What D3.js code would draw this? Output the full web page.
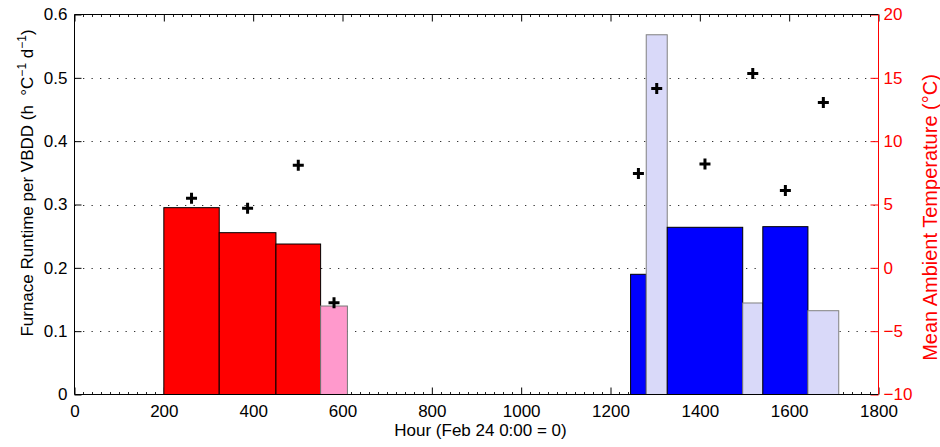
<!DOCTYPE html>
<html>
<head>
<meta charset="utf-8">
<script src="https://cdn.jsdelivr.net/npm/d3@7"></script>
<style>
  body { margin: 0; background: #fff; }
  svg { display: block; }
  text { font-family: "Liberation Sans", Arial, Helvetica, sans-serif; }
</style>
</head>
<body>
<svg id="chart" width="940" height="447"></svg>
<script>
// Measurement bins (hours since Feb 24 0:00)
const binStart = [200, 324, 451, 551, 1245, 1280, 1327, 1496, 1541, 1642];
const binEnd   = [324, 451, 551, 611, 1280, 1327, 1496, 1541, 1642, 1711];
// Furnace runtime per VBDD (h °C^-1 d^-1)
const runtimePerVBDD = [0.295, 0.2555, 0.2376, 0.1397, 0.1898, 0.568, 0.264, 0.1445, 0.265, 0.1323];
// Mean ambient temperature in each bin (°C)
const meanAmbientTemp = [5.5, 4.7, 8.1, -2.75, 7.45, 14.15, 8.2, 15.35, 6.1, 13.05];
// Bin class: which period and whether the bin is a partial one
const binClass = ["first", "first", "first", "first-partial",
                  "second", "second-partial", "second", "second-partial", "second", "second-partial"];

const xTicks = [0, 200, 400, 600, 800, 1000, 1200, 1400, 1600, 1800];
const xTickLabels = ["0", "200", "400", "600", "800", "1000", "1200", "1400", "1600", "1800"];
const yTicks = [0, 0.1, 0.2, 0.3, 0.4, 0.5, 0.6];
const yTickLabels = ["0", "0.1", "0.2", "0.3", "0.4", "0.5", "0.6"];
const tempTicks = [-10, -5, 0, 5, 10, 15, 20];
const tempTickLabels = ["\u221210", "\u22125", "0", "5", "10", "15", "20"];

const fills = {
  "first": "#ff0000", "first-partial": "#ff99cc",
  "second": "#0000ff", "second-partial": "#d9d9f9"
};
const strokes = {
  "first": "#000", "first-partial": "#777",
  "second": "#000", "second-partial": "#808080"
};

const X0 = 74.5, X1 = 878.5, Y0 = 394.5, Y1 = 14.5;
const FS = 17;

const svg = d3.select("#chart");
const x = d3.scaleLinear().domain([0, 1800]).range([X0, X1]);
const y = d3.scaleLinear().domain([0, 0.6]).range([Y0, Y1]);
const yT = d3.scaleLinear().domain([-10, 20]).range([Y0, Y1]);

// dotted horizontal grid
svg.append("g").selectAll("line")
  .data(yTicks.filter(v => v > 0 && v < 0.6))
  .join("line")
  .attr("x1", X0).attr("x2", X1)
  .attr("y1", d => Math.round(y(d)) + 0.5).attr("y2", d => Math.round(y(d)) + 0.5)
  .attr("stroke", "#333").attr("stroke-width", 1)
  .attr("stroke-dasharray", "1.3,7.2");

// minor ticks on bottom and top edges
const minor = d3.range(0, 1801, 20).filter(v => v % 200 !== 0);
const mg = svg.append("g").attr("stroke", "#222").attr("stroke-width", 1);
mg.selectAll("line.b").data(minor).join("line").attr("class", "b")
  .attr("x1", d => Math.round(x(d)) + 0.5).attr("x2", d => Math.round(x(d)) + 0.5)
  .attr("y1", Y0).attr("y2", Y0 - 2.5);
mg.selectAll("line.t").data(minor).join("line").attr("class", "t")
  .attr("x1", d => Math.round(x(d)) + 0.5).attr("x2", d => Math.round(x(d)) + 0.5)
  .attr("y1", Y1).attr("y2", Y1 + 2.5);

// axes
function styleAxis(g, color) {
  g.select(".domain").remove();
  g.selectAll(".tick line").attr("stroke", color);
  g.selectAll(".tick text").attr("fill", color).attr("font-size", FS)
    .attr("font-family", "\"Liberation Sans\", Arial, sans-serif");
}

svg.append("g").attr("transform", `translate(0,${Y0})`)
  .call(d3.axisBottom(x).tickValues(xTicks).tickFormat((d, i) => xTickLabels[i])
    .tickSize(-7).tickPadding(10))
  .call(g => styleAxis(g, "#000"));

svg.append("g").attr("transform", `translate(0,${Y1})`)
  .call(d3.axisTop(x).tickValues(xTicks).tickFormat("").tickSize(-7))
  .call(g => styleAxis(g, "#000"));

svg.append("g").attr("transform", `translate(${X0},0)`)
  .call(d3.axisLeft(y).tickValues(yTicks).tickFormat((d, i) => yTickLabels[i])
    .tickSize(-7).tickPadding(7))
  .call(g => styleAxis(g, "#000"));

svg.append("g").attr("transform", `translate(${X1},0)`)
  .call(d3.axisRight(yT).tickValues(tempTicks).tickFormat((d, i) => tempTickLabels[i])
    .tickSize(-8).tickPadding(5))
  .call(g => styleAxis(g, "#ff0000"));

// runtime bars
svg.append("g").selectAll("rect")
  .data(runtimePerVBDD.map((v, i) => ({ v, s: binStart[i], e: binEnd[i], c: binClass[i] })))
  .join("rect")
  .attr("x", d => x(d.s))
  .attr("width", d => x(d.e) - x(d.s))
  .attr("y", d => y(d.v))
  .attr("height", d => y(0) - y(d.v))
  .attr("fill", d => fills[d.c])
  .attr("stroke", d => strokes[d.c])
  .attr("stroke-width", 1);

// mean temperature markers
svg.append("g").selectAll("path")
  .data(meanAmbientTemp.map((t, i) => ({ t, h: (binStart[i] + binEnd[i]) / 2 })))
  .join("path")
  .attr("transform", d => `translate(${x(d.h)},${yT(d.t)})`)
  .attr("d", "M-5.5,0H5.5M0,-5.5V5.5")
  .attr("stroke", "#000").attr("stroke-width", 3).attr("fill", "none");

// frame
svg.append("path")
  .attr("d", `M${X1},${Y1}H${X0}V${Y0}H${X1}`)
  .attr("fill", "none").attr("stroke", "#000").attr("stroke-width", 1);
svg.append("line")
  .attr("x1", X1).attr("x2", X1).attr("y1", Y1).attr("y2", Y0)
  .attr("stroke", "#ff0000").attr("stroke-width", 1);

// axis titles
svg.append("text")
  .attr("x", (X0 + X1) / 2 + 4).attr("y", 436)
  .attr("text-anchor", "middle").attr("font-size", FS)
  .text("Hour (Feb 24 0:00 = 0)");

const lt = svg.append("text")
  .attr("transform", "translate(33,183) rotate(-90)")
  .attr("text-anchor", "middle").attr("font-size", FS)
  .style("white-space", "pre");
lt.append("tspan").text("Furnace Runtime per VBDD (h  \u00b0C");
lt.append("tspan").attr("dy", -7).attr("font-size", 12).text("\u22121");
lt.append("tspan").attr("dy", 7).text(" d");
lt.append("tspan").attr("dy", -7).attr("font-size", 12).text("\u22121");
lt.append("tspan").attr("dy", 7).text(")");

svg.append("text")
  .attr("transform", "translate(936.5,217.5) rotate(-90)")
  .attr("text-anchor", "middle").attr("font-size", 20)
  .attr("fill", "#ff0000")
  .text("Mean Ambient Temperature (\u00b0C)");
</script>
</body>
</html>
